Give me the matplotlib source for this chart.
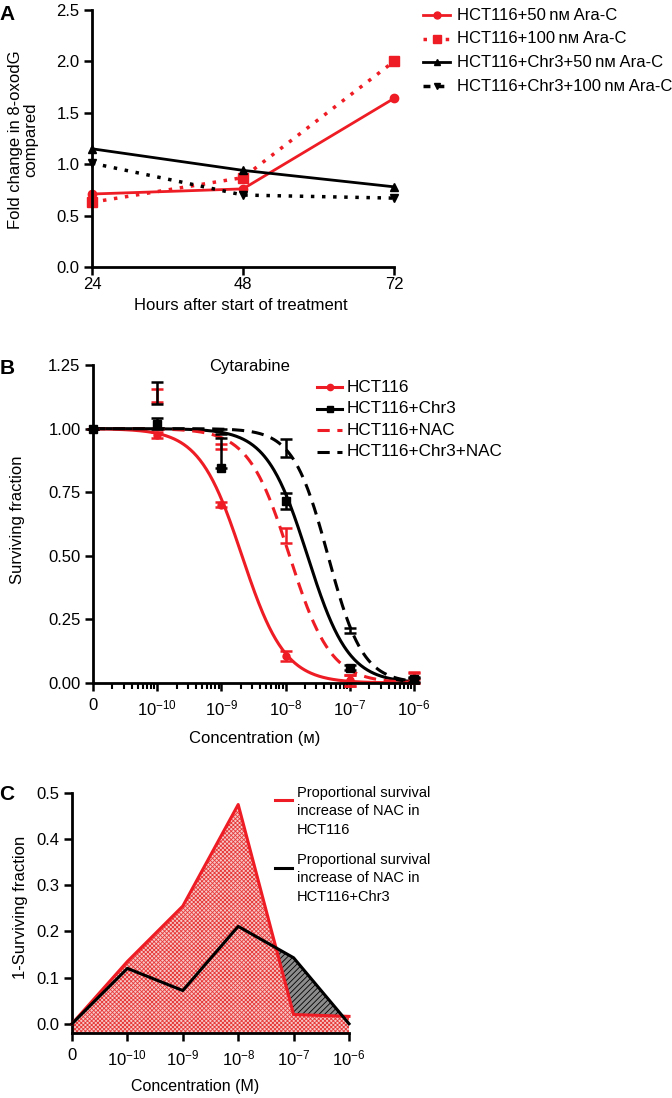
import numpy as np
import matplotlib
matplotlib.use('Agg')
import matplotlib.pyplot as plt
from matplotlib.lines import Line2D
from matplotlib.ticker import FixedLocator, LogLocator, NullFormatter, FixedFormatter

plt.rcParams['font.family'] = ['Liberation Sans', 'DejaVu Sans']
plt.rcParams['mathtext.fontset'] = 'custom'
plt.rcParams['mathtext.rm'] = 'Liberation Sans'
plt.rcParams['mathtext.it'] = 'Liberation Sans:italic'
plt.rcParams['mathtext.bf'] = 'Liberation Sans:bold'
plt.rcParams['hatch.linewidth'] = 0.6

# ---------------- Data ----------------
# Panel A
hours = [24, 48, 72]
a_hct_50 = [0.71, 0.76, 1.64]
a_hct_100 = [0.63, 0.87, 2.00]
a_chr3_50 = [1.15, 0.94, 0.78]
a_chr3_100 = [1.01, 0.70, 0.67]
a_labels = ['HCT116+50\u2009n\u1d0d Ara-C', 'HCT116+100\u2009n\u1d0d Ara-C',
            'HCT116+Chr3+50\u2009n\u1d0d Ara-C', 'HCT116+Chr3+100\u2009n\u1d0d Ara-C']
a_yticks = [0.0, 0.5, 1.0, 1.5, 2.0, 2.5]

# Panel B (concentration 0 drawn one decade below 1e-10)
conc = [0, 1e-10, 1e-9, 1e-8, 1e-7, 1e-6]
b_hct = [1.00, 0.975, 0.70, 0.105, 0.01, 0.02]
b_hct_err = [0.0, 0.01, 0.01, 0.02, 0.02, 0.02]
b_chr3 = [1.00, 1.02, 0.845, 0.715, 0.06, 0.015]
b_chr3_err_lo = [0.0, 0.02, 0.0, 0.03, 0.01, 0.01]
b_chr3_err_hi = [0.0, 0.02, 0.12, 0.03, 0.01, 0.01]
b_nac = [1.00, 1.13, 0.93, 0.58, 0.01, 0.03]
b_nac_err = [0.0, 0.025, 0.01, 0.03, 0.02, 0.015]
b_chr3nac = [1.00, 1.14, 0.99, 0.925, 0.205, 0.01]
b_chr3nac_err = [0.0, 0.045, 0.01, 0.035, 0.01, 0.01]
# fitted dose-response parameters (log IC50, Hill slope)
fit_logic50 = [-8.68, -7.66, -7.94, -7.34]
fit_hill = [1.30, 1.36, 1.35, 1.60]
b_labels = ['HCT116', 'HCT116+Chr3', 'HCT116+NAC', 'HCT116+Chr3+NAC']
b_yticks = [0.00, 0.25, 0.50, 0.75, 1.00, 1.25]

# Panel C
c_cats = ['0', r'$10^{-10}$', r'$10^{-9}$', r'$10^{-8}$', r'$10^{-7}$', r'$10^{-6}$']
c_hct = [0.0, 0.135, 0.255, 0.475, 0.02, 0.016]
c_chr3 = [0.0, 0.12, 0.072, 0.211, 0.143, 0.0]
c_labels = ['Proportional survival\nincrease of NAC in\nHCT116',
            'Proportional survival\nincrease of NAC in\nHCT116+Chr3']
c_yticks = [0.0, 0.1, 0.2, 0.3, 0.4, 0.5]

RED = '#ee1c24'
W, H = 672, 1098
fig = plt.figure(figsize=(W / 100, H / 100), dpi=100)

def fx(px):
    return px / W

def fy(py):
    return 1 - py / H

def axes_px(l, t, r, b):
    return fig.add_axes([fx(l), fy(b), fx(r) - fx(l), fy(t) - fy(b)])

def style_axes(ax):
    for s in ['top', 'right']:
        ax.spines[s].set_visible(False)
    for s in ['left', 'bottom']:
        ax.spines[s].set_linewidth(2.0)
    ax.tick_params(which='major', direction='out', length=6, width=1.8, labelsize=12, pad=3)
    ax.tick_params(which='minor', direction='out', length=4, width=1.5)

# ---------------- Panel A ----------------
axA = axes_px(92, 10, 394, 267)
style_axes(axA)
dot = (0, (1, 2.2))
axA.plot(hours, a_hct_50, color=RED, lw=2, marker='o', ms=6, clip_on=False)
axA.plot(hours, a_hct_100, color=RED, lw=2.5, ls=dot, marker='s', ms=6.5, clip_on=False)
axA.plot(hours, a_chr3_50, color='black', lw=2, marker='^', ms=5.5, clip_on=False)
axA.plot(hours, a_chr3_100, color='black', lw=2.5, ls=dot, marker='v', ms=5.5, clip_on=False)
axA.set_xlim(24, 72)
axA.set_ylim(0, 2.5)
axA.set_xticks(hours)
axA.set_yticks(a_yticks)
axA.set_yticklabels([f'{v:.1f}' for v in a_yticks])
axA.tick_params(axis='x', pad=1)

a_styles = [dict(color=RED, lw=2, ls='-', marker='o', ms=5),
            dict(color=RED, lw=2.5, ls=dot, marker='s', ms=5.5),
            dict(color='black', lw=2, ls='-', marker='^', ms=5),
            dict(color='black', lw=2.5, ls=(0, (2, 2)), marker='v', ms=5)]
for i, (lab, st) in enumerate(zip(a_labels, a_styles)):
    yy = 15 + i * 23.7
    fig.add_artist(Line2D([fx(423), fx(450)], [fy(yy), fy(yy)], **{k: v for k, v in st.items() if k not in ('marker', 'ms')}))
    fig.add_artist(Line2D([fx(436.5)], [fy(yy)], color=st['color'], marker=st['marker'], ms=st['ms'], ls='none'))
    fig.text(fx(457), fy(yy), lab, fontsize=12, va='center', ha='left',
             family=['Liberation Sans', 'DejaVu Sans'])

fig.text(fx(241), fy(305), 'Hours after start of treatment', fontsize=12, ha='center', va='center')
fig.text(fx(23), fy(140), 'Fold change in 8-oxodG\ncompared', fontsize=12, rotation=90,
         ha='center', va='center', linespacing=1.05)
fig.text(fx(7), fy(14), 'A', fontsize=15, fontweight='bold', ha='center', va='center')

# ---------------- Panel B ----------------
axB = axes_px(93, 365, 418, 683)
style_axes(axB)
axB.set_xscale('log')
zero_pos = 1e-11
xb = [zero_pos if c == 0 else c for c in conc]
xs = np.logspace(-11, -6, 400)
curve_styles = [dict(color=RED, ls='-'), dict(color='black', ls='-'),
                dict(color=RED, ls=(0, (4, 2.5))), dict(color='black', ls=(0, (4, 2.5)))]
for ic, h, st in zip(fit_logic50, fit_hill, curve_styles):
    ys = 1.0 / (1.0 + 10 ** ((np.log10(xs) - ic) * h))
    axB.plot(xs, ys, lw=2.2, clip_on=False, **st)

axB.errorbar(xb, b_nac, yerr=b_nac_err, fmt='none', ecolor=RED, elinewidth=1.8, capsize=4, capthick=1.8, clip_on=False)
axB.errorbar(xb, b_chr3nac, yerr=b_chr3nac_err, fmt='none', ecolor='black', elinewidth=1.8, capsize=4, capthick=1.8, clip_on=False)
axB.errorbar(xb, b_hct, yerr=b_hct_err, fmt='o', color=RED, ms=5, ecolor=RED, elinewidth=1.8, capsize=4, capthick=1.8, clip_on=False)
axB.errorbar(xb, b_chr3, yerr=[b_chr3_err_lo, b_chr3_err_hi], fmt='s', color='black', ms=6, ecolor='black',
             elinewidth=1.8, capsize=4, capthick=1.8, clip_on=False)

axB.set_xlim(1e-11, 1.15e-6)
axB.set_ylim(0, 1.25)
axB.xaxis.set_major_locator(FixedLocator(xb))
axB.xaxis.set_major_formatter(FixedFormatter(c_cats))
axB.xaxis.set_minor_locator(LogLocator(base=10, subs=np.arange(2, 10), numticks=20))
axB.xaxis.set_minor_formatter(NullFormatter())
axB.set_yticks(b_yticks)
axB.set_yticklabels([f'{v:.2f}' for v in b_yticks])
axB.tick_params(axis='x', pad=5)

fig.text(fx(250), fy(367), 'Cytarabine', fontsize=12, ha='center', va='center')
for i, lab in enumerate(b_labels):
    yy = 387 + i * 21.5
    st = curve_styles[i]
    fig.add_artist(Line2D([fx(317), fx(342)], [fy(yy), fy(yy)], color=st['color'], ls=st['ls'], lw=2.2))
    if i < 2:
        fig.add_artist(Line2D([fx(329.5)], [fy(yy)], color=st['color'], marker='o' if i == 0 else 's',
                              ms=4.5 if i == 0 else 5, ls='none'))
    fig.text(fx(347), fy(yy), lab, fontsize=12.3, ha='left', va='center')

fig.text(fx(255), fy(738), 'Concentration (\u1d0d)', fontsize=12, ha='center', va='center',
         family=['Liberation Sans', 'DejaVu Sans'])
fig.text(fx(17.5), fy(520), 'Surviving fraction', fontsize=12, rotation=90, ha='center', va='center')
fig.text(fx(7), fy(368), 'B', fontsize=15, fontweight='bold', ha='center', va='center')

# ---------------- Panel C ----------------
axC = axes_px(72, 793, 349, 1033)
style_axes(axC)
xc = np.arange(len(c_cats))
ybot = -0.02
axC.set_xlim(0, len(c_cats) - 1)
axC.set_ylim(ybot, 0.5)
axC.fill_between(xc, ybot, c_hct, facecolor='#f8c8c8', edgecolor='#e63a3a', hatch='xxxxxxxx', linewidth=0, zorder=1)
c_hct_a = np.array(c_hct)
c_chr3_a = np.array(c_chr3)
axC.fill_between(xc, c_hct_a, c_chr3_a, where=c_chr3_a > c_hct_a, interpolate=True,
                 facecolor='#8c8c8c', edgecolor='black', hatch='//////', linewidth=0, zorder=2)
axC.plot(xc, c_hct, color=RED, lw=2.2, zorder=3, clip_on=False)
axC.plot(xc, c_chr3, color='black', lw=2.2, zorder=4, clip_on=False)
axC.set_xticks(xc)
axC.set_xticklabels(c_cats)
axC.set_yticks(c_yticks)
axC.set_yticklabels([f'{v:.1f}' for v in c_yticks])
axC.tick_params(axis='x', pad=5)

for yy, ytop, lab, col in [(800, 786, c_labels[0], RED), (868, 853, c_labels[1], 'black')]:
    fig.add_artist(Line2D([fx(275), fx(292)], [fy(yy), fy(yy)], color=col, lw=2.2))
    fig.text(fx(297), fy(ytop), lab, fontsize=10.5, ha='left', va='top', linespacing=1.4)

fig.text(fx(195), fy(1087), 'Concentration (M)', fontsize=11.5, ha='center', va='center')
fig.text(fx(21), fy(907), '1-Surviving fraction', fontsize=12, rotation=90, ha='center', va='center')
fig.text(fx(7), fy(795), 'C', fontsize=15, fontweight='bold', ha='center', va='center')

fig.savefig('out.png', dpi=100)
